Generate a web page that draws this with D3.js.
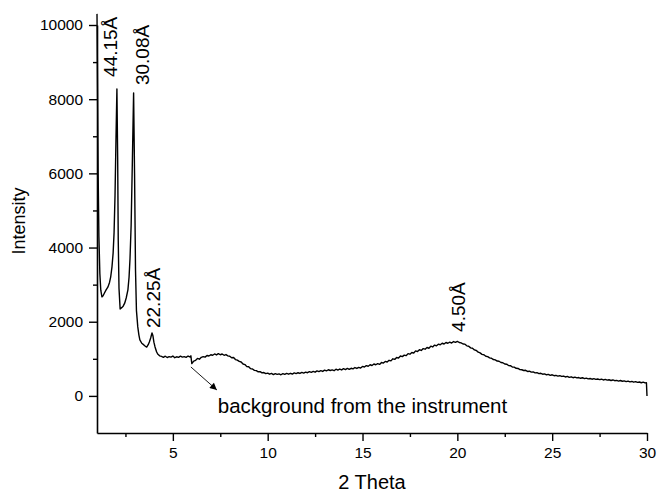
<!DOCTYPE html>
<html>
<head>
<meta charset="utf-8">
<script src="https://cdn.jsdelivr.net/npm/d3@7"></script>
<style>
  html, body { margin: 0; padding: 0; background: #fff; }
  svg { display: block; font-family: "Liberation Sans", Arial, sans-serif; }
</style>
</head>
<body>
<svg id="chart" width="658" height="493"></svg>
<script>
// ---- data ----
const twoTheta = [
  1.00,1.03,1.06,1.10,1.15,1.20,1.26,1.32,1.40,1.48,1.58,1.66,1.72,1.79,1.85,1.90,1.95,2.00,2.05,2.09,
  2.12,2.16,2.22,2.30,2.38,2.46,2.54,2.63,2.69,2.74,2.80,2.86,2.93,2.98,3.03,3.08,3.15,3.21,3.26,3.36,
  3.47,3.55,3.62,3.70,3.76,3.83,3.90,3.95,4.00,4.06,4.14,
  4.2,4.3,4.4,4.5,4.6,4.7,4.8,4.9,5.0,5.1,5.2,5.3,5.4,5.5,5.6,5.7,5.8,5.9,5.95,
  6.0,6.1,6.2,6.3,6.4,6.5,6.6,6.7,6.8,6.9,7.0,7.1,7.2,7.3,7.4,7.5,7.6,7.7,7.8,7.9,
  8.0,8.1,8.2,8.3,8.4,8.5,8.6,8.7,8.8,8.9,9.0,9.1,9.2,9.3,9.4,9.5,9.6,9.7,9.8,9.9,
  10.0,10.1,10.2,10.3,10.4,10.5,10.6,10.7,10.8,10.9,11.0,11.1,11.2,11.3,11.4,11.5,11.6,11.7,11.8,11.9,
  12.0,12.1,12.2,12.3,12.4,12.5,12.6,12.7,12.8,12.9,13.0,13.1,13.2,13.3,13.4,13.5,13.6,13.7,13.8,13.9,
  14.0,14.1,14.2,14.3,14.4,14.5,14.6,14.7,14.8,14.9,15.0,15.1,15.2,15.3,15.4,15.5,15.6,15.7,15.8,15.9,
  16.0,16.1,16.2,16.3,16.4,16.5,16.6,16.7,16.8,16.9,17.0,17.1,17.2,17.3,17.4,17.5,17.6,17.7,17.8,17.9,
  18.0,18.1,18.2,18.3,18.4,18.5,18.6,18.7,18.8,18.9,19.0,19.1,19.2,19.3,19.4,19.5,19.6,19.7,19.8,19.9,
  20.0,20.1,20.2,20.3,20.4,20.5,20.6,20.7,20.8,20.9,21.0,21.1,21.2,21.3,21.4,21.5,21.6,21.7,21.8,21.9,
  22.0,22.1,22.2,22.3,22.4,22.5,22.6,22.7,22.8,22.9,23.0,23.1,23.2,23.3,23.4,23.5,23.6,23.7,23.8,23.9,
  24.0,24.1,24.2,24.3,24.4,24.5,24.6,24.7,24.8,24.9,25.0,25.1,25.2,25.3,25.4,25.5,25.6,25.7,25.8,25.9,
  26.0,26.1,26.2,26.3,26.4,26.5,26.6,26.7,26.8,26.9,27.0,27.1,27.2,27.3,27.4,27.5,27.6,27.7,27.8,27.9,
  28.0,28.1,28.2,28.3,28.4,28.5,28.6,28.7,28.8,28.9,29.0,29.1,29.2,29.3,29.4,29.5,29.6,29.7,29.8,29.9,
  29.97,30.0
];
const intensity = [
  10300,8200,6000,4300,3300,2850,2670,2700,2780,2860,2940,3060,3200,3480,3850,4400,5400,6900,8275,6400,
  4200,2900,2345,2380,2420,2500,2640,2860,3200,3700,4600,6200,8170,6000,3400,2300,1860,1640,1510,1420,
  1375,1340,1315,1380,1455,1560,1700,1620,1450,1320,1190,
  1130,1080,1065,1040,1070,1035,1060,1045,1075,1030,1055,1040,1070,1045,1060,1040,1075,1050,1080,
  870,940,960,1010,990,1040,1060,1045,1090,1075,1110,1095,1130,1105,1140,1110,1130,1095,1115,1080,
  1070,1030,1035,980,965,930,915,860,845,790,785,735,725,690,680,650,655,620,630,600,
  615,585,605,575,600,580,595,570,600,580,605,585,610,590,620,600,625,605,635,615,
  640,625,655,635,660,640,675,655,680,660,695,675,705,685,700,680,720,695,725,700,
  735,710,740,715,745,730,765,740,770,750,795,780,815,800,840,820,860,840,870,850,
  900,885,930,915,960,945,1000,985,1035,1020,1075,1060,1100,1085,1140,1125,1170,1155,1215,1195,
  1245,1225,1275,1260,1305,1285,1340,1320,1370,1350,1395,1380,1420,1400,1440,1420,1450,1425,1465,1445,
  1470,1440,1430,1400,1395,1350,1340,1295,1285,1240,1225,1180,1160,1120,1110,1070,1060,1025,1015,980,
  970,940,935,900,895,860,855,820,815,780,775,745,740,710,705,685,690,660,665,640,
  645,620,625,600,610,585,595,570,580,555,570,545,555,535,545,525,535,510,525,500,
  515,490,505,485,495,475,490,465,480,460,470,450,465,445,455,440,450,430,445,425,
  435,415,430,410,420,400,415,395,405,385,400,380,390,370,385,365,375,355,370,350,
  355,0
];
const xTicks = [5, 10, 15, 20, 25, 30];
const xMinorTicks = [2.5, 7.5, 12.5, 17.5, 22.5, 27.5];
const yTicks = [0, 2000, 4000, 6000, 8000, 10000];
const yMinorTicks = [1000, 3000, 5000, 7000, 9000];
const peakLabels = ["44.15Å", "30.08Å", "22.25Å", "4.50Å"];
const peakLabelX = [2.05, 3.74, 4.32, 20.42];
const peakLabelY = [8600, 8380, 1830, 1725];
const noteText = "background from the instrument";
const noteX = [5.95, 7.32, 7.37];   // arrow start, arrow end, text start
const noteY = [780, 160, -460];

// ---- layout ----
const svg = d3.select("#chart");
const x = d3.scaleLinear().domain([1, 30]).range([97, 647]);
const y = d3.scaleLinear().domain([-1000, 10000]).range([433, 25]);

svg.append("defs").append("marker")
  .attr("id", "arrow").attr("viewBox", "0 0 10 10")
  .attr("refX", 10).attr("refY", 5)
  .attr("markerWidth", 10).attr("markerHeight", 7)
  .attr("markerUnits", "userSpaceOnUse")
  .attr("orient", "auto")
  .append("path").attr("d", "M0,0 L10,5 L0,10 Z").attr("fill", "#000");

// axes
svg.append("g").attr("transform", `translate(0,${y(-1000)})`)
  .call(d3.axisBottom(x).tickValues(xTicks).tickSize(8).tickSizeOuter(0).tickPadding(6).tickFormat(d3.format("d")));
svg.append("g").attr("transform", `translate(0,${y(-1000)})`)
  .call(d3.axisBottom(x).tickValues(xMinorTicks).tickSize(4).tickSizeOuter(0).tickFormat(""))
  .select(".domain").remove();
svg.append("g").attr("transform", `translate(${x(1)},0)`)
  .call(d3.axisLeft(y).tickValues(yTicks).tickSize(8).tickSizeOuter(0).tickPadding(6).tickFormat(d3.format("d")));
svg.append("g").attr("transform", `translate(${x(1)},0)`)
  .call(d3.axisLeft(y).tickValues(yMinorTicks).tickSize(4).tickSizeOuter(0).tickFormat(""))
  .select(".domain").remove();

svg.selectAll(".domain").attr("stroke", "#000").attr("stroke-width", 1.6);
svg.selectAll(".tick line").attr("stroke", "#000").attr("stroke-width", 1.4);
svg.selectAll(".tick text").attr("fill", "#000").style("font-size", "15.5px")
  .style("font-family", "'Liberation Sans', Arial, sans-serif");

// axis titles
svg.append("text").attr("x", (x(1) + x(30)) / 2).attr("y", 489)
  .attr("text-anchor", "middle").style("font-size", "20px").text("2 Theta");
svg.append("text").attr("transform", "translate(25,221) rotate(-90)")
  .attr("text-anchor", "middle").style("font-size", "18px").text("Intensity");

// data line
const pts = twoTheta.map((d, i) => [d, intensity[i]]);
svg.append("path").datum(pts)
  .attr("fill", "none").attr("stroke", "#000").attr("stroke-width", 1.4)
  .attr("stroke-linejoin", "round")
  .attr("d", d3.line().x(d => x(d[0])).y(d => y(d[1])));

// peak labels
peakLabels.forEach((t, i) => {
  svg.append("text")
    .attr("transform", `translate(${x(peakLabelX[i])},${y(peakLabelY[i])}) rotate(-90)`)
    .attr("text-anchor", "start").style("font-size", "19px").text(t);
});

// background note and arrow
svg.append("line")
  .attr("x1", x(noteX[0])).attr("y1", y(noteY[0]))
  .attr("x2", x(noteX[1])).attr("y2", y(noteY[1]))
  .attr("stroke", "#000").attr("stroke-width", 0.9)
  .attr("marker-end", "url(#arrow)");
svg.append("text").attr("x", x(noteX[2])).attr("y", y(noteY[2]))
  .style("font-size", "20.5px").text(noteText);
</script>
</body>
</html>
